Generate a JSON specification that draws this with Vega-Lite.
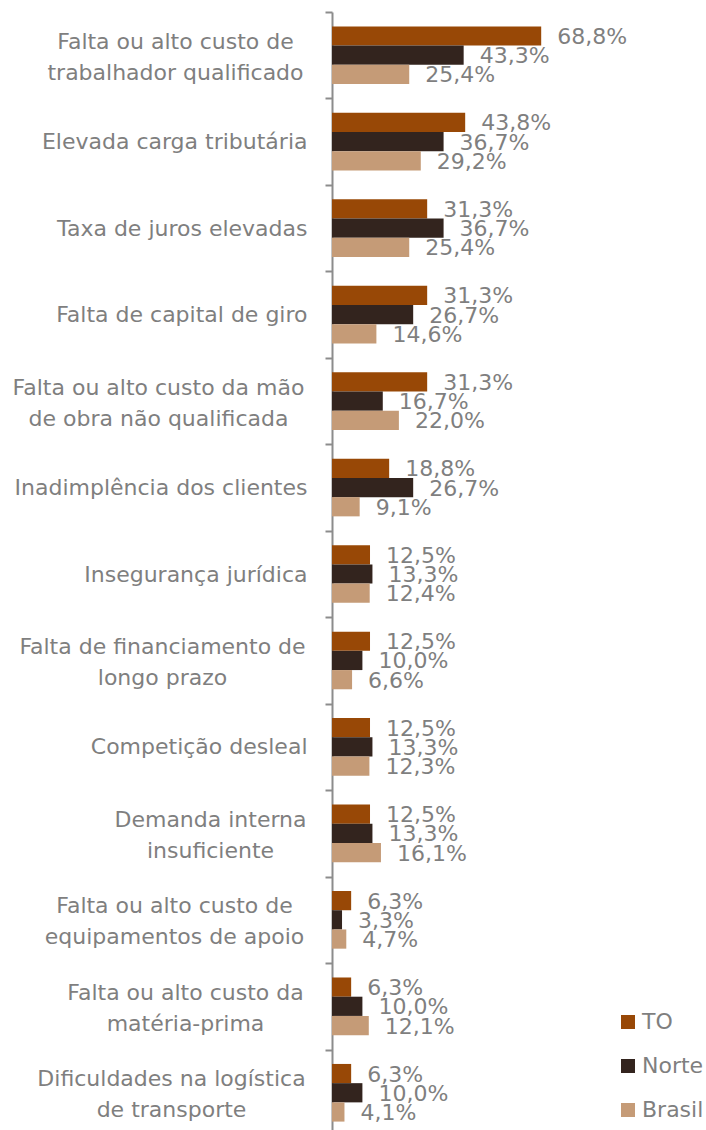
{
  "$schema": "https://vega.github.io/schema/vega-lite/v6.json",
  "autosize": "none",
  "width": 374,
  "height": 1124,
  "padding": {"left": 332, "top": 12, "right": 0, "bottom": 0},
  "background": "white",
  "config": {
    "view": {"stroke": null},
    "font": "DejaVu Sans",
    "locale": {"number": {"decimal": ",", "thousands": ".", "grouping": [3], "currency": ["R$ ", ""]}}
  },
  "data": {"values": [
    {"categoria": "Falta ou alto custo de\ntrabalhador qualificado", "regiao": "TO", "valor": 0.688},
    {"categoria": "Falta ou alto custo de\ntrabalhador qualificado", "regiao": "Norte", "valor": 0.433},
    {"categoria": "Falta ou alto custo de\ntrabalhador qualificado", "regiao": "Brasil", "valor": 0.254},
    {"categoria": "Elevada carga tributária", "regiao": "TO", "valor": 0.438},
    {"categoria": "Elevada carga tributária", "regiao": "Norte", "valor": 0.367},
    {"categoria": "Elevada carga tributária", "regiao": "Brasil", "valor": 0.292},
    {"categoria": "Taxa de juros elevadas", "regiao": "TO", "valor": 0.313},
    {"categoria": "Taxa de juros elevadas", "regiao": "Norte", "valor": 0.367},
    {"categoria": "Taxa de juros elevadas", "regiao": "Brasil", "valor": 0.254},
    {"categoria": "Falta de capital de giro", "regiao": "TO", "valor": 0.313},
    {"categoria": "Falta de capital de giro", "regiao": "Norte", "valor": 0.267},
    {"categoria": "Falta de capital de giro", "regiao": "Brasil", "valor": 0.146},
    {"categoria": "Falta ou alto custo da mão\nde obra não qualificada", "regiao": "TO", "valor": 0.313},
    {"categoria": "Falta ou alto custo da mão\nde obra não qualificada", "regiao": "Norte", "valor": 0.167},
    {"categoria": "Falta ou alto custo da mão\nde obra não qualificada", "regiao": "Brasil", "valor": 0.220},
    {"categoria": "Inadimplência dos clientes", "regiao": "TO", "valor": 0.188},
    {"categoria": "Inadimplência dos clientes", "regiao": "Norte", "valor": 0.267},
    {"categoria": "Inadimplência dos clientes", "regiao": "Brasil", "valor": 0.091},
    {"categoria": "Insegurança jurídica", "regiao": "TO", "valor": 0.125},
    {"categoria": "Insegurança jurídica", "regiao": "Norte", "valor": 0.133},
    {"categoria": "Insegurança jurídica", "regiao": "Brasil", "valor": 0.124},
    {"categoria": "Falta de financiamento de\nlongo prazo", "regiao": "TO", "valor": 0.125},
    {"categoria": "Falta de financiamento de\nlongo prazo", "regiao": "Norte", "valor": 0.100},
    {"categoria": "Falta de financiamento de\nlongo prazo", "regiao": "Brasil", "valor": 0.066},
    {"categoria": "Competição desleal", "regiao": "TO", "valor": 0.125},
    {"categoria": "Competição desleal", "regiao": "Norte", "valor": 0.133},
    {"categoria": "Competição desleal", "regiao": "Brasil", "valor": 0.123},
    {"categoria": "Demanda interna\ninsuficiente", "regiao": "TO", "valor": 0.125},
    {"categoria": "Demanda interna\ninsuficiente", "regiao": "Norte", "valor": 0.133},
    {"categoria": "Demanda interna\ninsuficiente", "regiao": "Brasil", "valor": 0.161},
    {"categoria": "Falta ou alto custo de\nequipamentos de apoio", "regiao": "TO", "valor": 0.063},
    {"categoria": "Falta ou alto custo de\nequipamentos de apoio", "regiao": "Norte", "valor": 0.033},
    {"categoria": "Falta ou alto custo de\nequipamentos de apoio", "regiao": "Brasil", "valor": 0.047},
    {"categoria": "Falta ou alto custo da\nmatéria-prima", "regiao": "TO", "valor": 0.063},
    {"categoria": "Falta ou alto custo da\nmatéria-prima", "regiao": "Norte", "valor": 0.100},
    {"categoria": "Falta ou alto custo da\nmatéria-prima", "regiao": "Brasil", "valor": 0.121},
    {"categoria": "Dificuldades na logística\nde transporte", "regiao": "TO", "valor": 0.063},
    {"categoria": "Dificuldades na logística\nde transporte", "regiao": "Norte", "valor": 0.100},
    {"categoria": "Dificuldades na logística\nde transporte", "regiao": "Brasil", "valor": 0.041}
  ]},
  "encoding": {
    "y": {
      "field": "categoria", "type": "nominal", "sort": null,
      "scale": {"paddingInner": 0, "paddingOuter": 0},
      "axis": {
        "title": null,
        "labelExpr": "isString(datum.value) ? split(datum.value, '\\n') : ''",
        "labelFontSize": 22,
        "labelColor": "#7f7f7f",
        "labelLineHeight": 31,
        "labelAlign": {
          "condition": {"test": "isString(datum.value) && indexof(datum.value, '\\n') >= 0", "value": "center"},
          "value": "right"
        },
        "labelOffset": {
          "condition": {"test": "isString(datum.value) && indexof(datum.value, '\\n') >= 0", "value": -14},
          "value": 0
        },
        "labelPadding": {
          "condition": [
            {"test": "isString(datum.value) && indexof(datum.value, 'trabalhador') >= 0", "value": 150},
            {"test": "isString(datum.value) && indexof(datum.value, 'mão') >= 0", "value": 167},
            {"test": "isString(datum.value) && indexof(datum.value, 'financiamento') >= 0", "value": 163},
            {"test": "isString(datum.value) && indexof(datum.value, 'insuficiente') >= 0", "value": 115},
            {"test": "isString(datum.value) && indexof(datum.value, 'equipamentos') >= 0", "value": 151},
            {"test": "isString(datum.value) && indexof(datum.value, 'matéria') >= 0", "value": 140},
            {"test": "isString(datum.value) && indexof(datum.value, 'transporte') >= 0", "value": 154}
          ],
          "value": 18
        },
        "labelLimit": 400,
        "tickBand": "extent",
        "tickSize": 7,
        "tickWidth": 2,
        "tickColor": "#8c8c8c",
        "domainColor": "#8c8c8c",
        "domainWidth": 2
      }
    },
    "yOffset": {
      "field": "regiao", "type": "nominal", "sort": ["TO", "Norte", "Brasil"],
      "scale": {"paddingInner": 0, "paddingOuter": 0.75}
    },
    "x": {"field": "valor", "type": "quantitative", "scale": {"domain": [0, 1.23]}, "axis": null}
  },
  "layer": [
    {
      "mark": {"type": "bar"},
      "encoding": {
        "color": {
          "field": "regiao", "type": "nominal", "sort": ["TO", "Norte", "Brasil"],
          "scale": {"domain": ["TO", "Norte", "Brasil"], "range": ["#984806", "#33241e", "#c59b77"]},
          "legend": {
            "orient": "none", "legendX": 285, "legendY": 999, "title": null,
            "symbolType": "square", "symbolSize": 196, "symbolStrokeWidth": 0,
            "labelFontSize": 22, "labelColor": "#7f7f7f", "labelOffset": 3,
            "rowPadding": 22, "padding": 0
          }
        }
      }
    },
    {
      "mark": {"type": "text", "align": "left", "baseline": "middle", "dx": 16, "dy": 1, "fontSize": 22, "color": "#7f7f7f"},
      "encoding": {"text": {"field": "valor", "type": "quantitative", "format": ".1%"}}
    }
  ]
}
